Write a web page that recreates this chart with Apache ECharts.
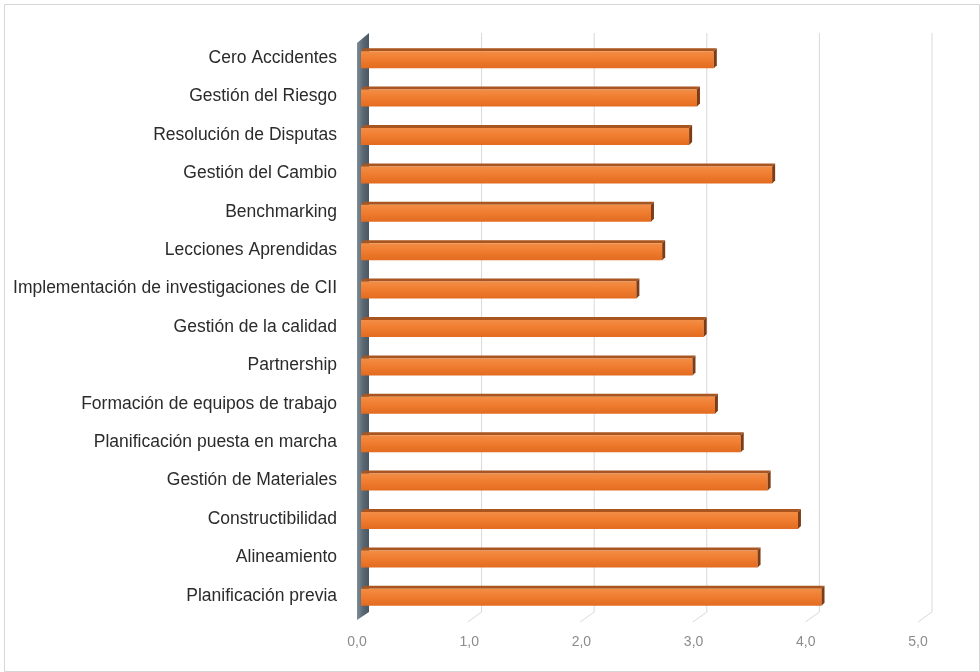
<!DOCTYPE html>
<html>
<head>
<meta charset="utf-8">
<script src="https://cdn.jsdelivr.net/npm/echarts@6/dist/echarts.min.js"></script>
<style>
  html, body { margin: 0; padding: 0; background: #fff; }
  #main { width: 980px; height: 672px; }
</style>
</head>
<body>
<div id="main"></div>
<script>
// categorías (de arriba hacia abajo)
const categories = [
  'Cero Accidentes',
  'Gestión del Riesgo',
  'Resolución de Disputas',
  'Gestión del Cambio',
  'Benchmarking',
  'Lecciones Aprendidas',
  'Implementación de investigaciones de CII',
  'Gestión de la calidad',
  'Partnership',
  'Formación de equipos de trabajo',
  'Planificación puesta en marcha',
  'Gestión de Materiales',
  'Constructibilidad',
  'Alineamiento',
  'Planificación previa'
]
// valores
const values = [3.18, 3.03, 2.96, 3.70, 2.62, 2.72, 2.49, 3.09, 2.99, 3.19, 3.42, 3.66, 3.93, 3.57, 4.14]
// marcas del eje
const ticks = [0, 1, 2, 3, 4, 5]

const chart = echarts.init(document.getElementById('main'))

const barFill = new echarts.graphic.LinearGradient(0, 0, 0, 1, [
  { offset: 0, color: '#f38d45' },
  { offset: 0.45, color: '#f07d30' },
  { offset: 1, color: '#e26b20' },
])

// barra 3D: cara frontal + cara superior + lado derecho
function renderBar(params, api) {
  const idx = api.value(1)
  const end = api.coord([api.value(0), idx])
  const start = api.coord([0, idx])
  const x0 = start[0] + 4
  const x1 = end[0]
  const yT = end[1] - 7
  const yB = end[1] + 10
  const d = 3
  return {
    type: 'group',
    children: [
      { type: 'polygon', shape: { points: [[x0, yT], [x1, yT], [x1 + d, yT - d], [x0 + d, yT - d]] }, style: { fill: '#a9551f' } },
      { type: 'rect', shape: { x: x0, y: yT, width: x1 - x0, height: yB - yT }, style: { fill: barFill } },
      { type: 'polygon', shape: { points: [[x1, yT], [x1 + d, yT - d], [x1 + d, yB - d], [x1, yB]] }, style: { fill: '#7e3b14' } },
    ],
  }
}

// líneas de división en el plano de fondo, con el quiebre hacia el piso
function renderGrid(params, api) {
  const v = api.value(0)
  const top = api.coord([v, 1])
  const bot = api.coord([v, 0])
  if (v === 0) {
    // pared lateral
    return {
      type: 'polygon',
      shape: { points: [[top[0], top[1]], [bot[0], bot[1]], [bot[0] - 12, bot[1] + 8], [top[0] - 12, top[1] + 10]] },
      style: {
        fill: new echarts.graphic.LinearGradient(0, 0, 1, 0, [
          { offset: 0, color: '#7f8d99' },
          { offset: 0.5, color: '#5a6874' },
          { offset: 1, color: '#4a5763' },
        ]),
      },
    }
  }
  return {
    type: 'polyline',
    shape: { points: [top, bot, [bot[0] - 14, bot[1] + 10]] },
    style: { stroke: '#d9d9d9', lineWidth: 1, fill: null },
  }
}

const option = {
  animation: false,
  backgroundColor: '#fff',
  graphic: [
    {
      type: 'rect',
      left: 2,
      top: 2,
      shape: { width: 975, height: 667 },
      style: { fill: 'none', stroke: '#d6d6d6', lineWidth: 1 },
      silent: true,
    },
  ],
  grid: [
    { left: 357, right: 62, top: 39, bottom: 57 },
    { left: 369, right: 48, top: 33, bottom: 60 },
  ],
  xAxis: [
    {
      type: 'value',
      gridIndex: 0,
      min: 0,
      max: 5,
      interval: 1,
      axisLine: { show: false },
      axisTick: { show: false },
      splitLine: { show: false },
      axisLabel: {
        margin: 20,
        color: '#8c8c8c',
        fontSize: 14,
        fontFamily: 'Liberation Sans',
        formatter: v => v.toFixed(1).replace('.', ','),
      },
    },
    { type: 'value', gridIndex: 1, min: 0, max: 5, show: false },
  ],
  yAxis: [
    {
      type: 'category',
      gridIndex: 0,
      inverse: true,
      data: categories,
      axisLine: { show: false },
      axisTick: { show: false },
      axisLabel: {
        margin: 20,
        color: '#2b2b2b',
        fontSize: 17.5,
        fontFamily: 'Liberation Sans',
      },
    },
    { type: 'value', gridIndex: 1, min: 0, max: 1, show: false },
  ],
  series: [
    {
      type: 'custom',
      xAxisIndex: 1,
      yAxisIndex: 1,
      renderItem: renderGrid,
      data: ticks.map(t => [t, 0]),
      z: 1,
      silent: true,
    },
    {
      type: 'custom',
      xAxisIndex: 0,
      yAxisIndex: 0,
      renderItem: renderBar,
      data: values.map((v, i) => [v, i]),
      z: 5,
    },
  ],
}
chart.setOption(option)
</script>
</body>
</html>
